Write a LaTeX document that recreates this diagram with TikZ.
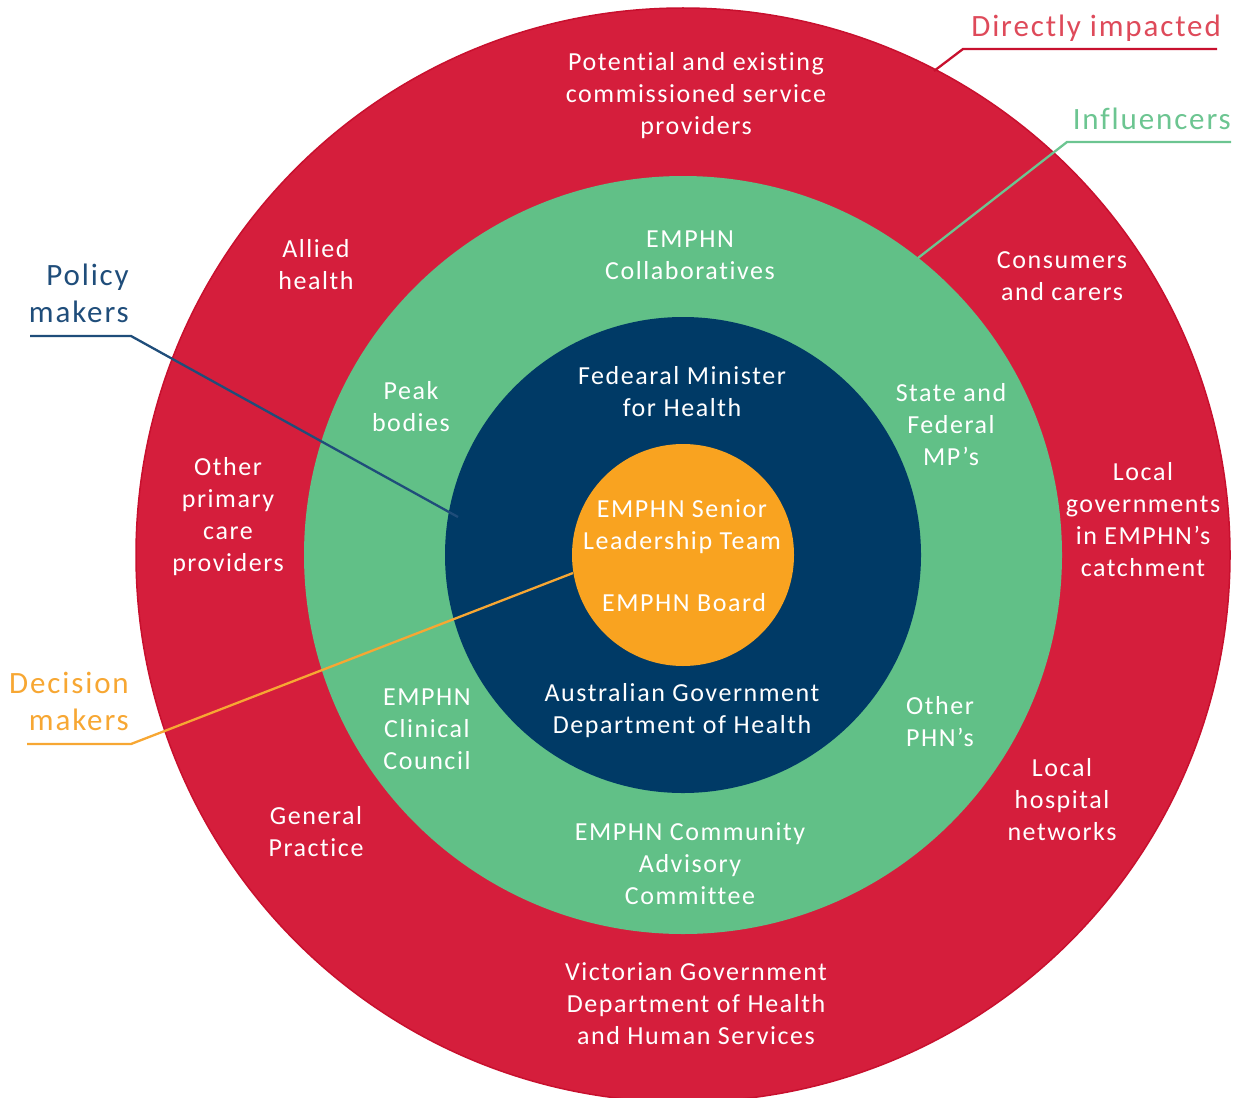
\documentclass[tikz,border=0pt]{standalone}
\usepackage{fontspec}
\setmainfont{Carlito}[LetterSpace=6, Ligatures={NoCommon,NoRequired,NoContextual}]
\definecolor{redc}{HTML}{D51E3C}
\definecolor{redline}{HTML}{C8102E}
\definecolor{greenc}{HTML}{61C087}
\definecolor{navyc}{HTML}{003A66}
\definecolor{orangec}{HTML}{F9A320}
\definecolor{redlbl}{HTML}{DE4A5A}
\definecolor{greenlbl}{HTML}{6CC591}
\definecolor{navylbl}{HTML}{1F4D7A}
\definecolor{orangelbl}{HTML}{F7A733}
\tikzset{
  lbl/.style={text=white, align=center, inner sep=0pt, font=\fontsize{26}{32}\selectfont},
  hdr/.style={align=right, inner sep=0pt, anchor=east, font=\fontsize{31}{37}\selectfont},
  leader/.style={line width=2.3pt}
}
\begin{document}
\begin{tikzpicture}[x=1pt,y=-1pt]
\useasboundingbox (0,0) rectangle (1238,1097);
\fill[redc, draw=redline, line width=1.5pt] (683,555) circle[radius=547pt];
\fill[greenc] (683,555) circle[radius=379pt];
\fill[navyc] (683,555) circle[radius=238pt];
\fill[orangec] (683,555) circle[radius=111pt];

% outer ring texts
\node[lbl] (pot) at (696,96) {Potential and existing\\commissioned service\\providers};
\node[lbl] (allied) at (316,265) {Allied\\health};
\node[lbl] (cons) at (1062,276) {Consumers\\and carers};
\node[lbl] (opc) at (228,517) {Other\\primary\\care\\providers};
\node[lbl] (lgov) at (1143,520) {Local\\governments\\in EMPHN’s\\catchment};
\node[lbl] (lhn) at (1062,800) {Local\\hospital\\networks};
\node[lbl] (gp) at (316,832) {General\\Practice};
\node[lbl] (vic) at (696,1004) {Victorian Government\\Department of Health\\and Human Services};

% green ring texts
\node[lbl] (collab) at (690,255) {EMPHN\\Collaboratives};
\node[lbl] (peak) at (411,407) {Peak\\bodies};
\node[lbl] (mps) at (951,425) {State and\\Federal\\MP’s};
\node[lbl] (clin) at (427,729) {EMPHN\\Clinical\\Council};
\node[lbl] (phn) at (940,722) {Other\\PHN’s};
\node[lbl] (cac) at (690,864) {EMPHN Community\\Advisory\\Committee};

% navy ring texts
\node[lbl] (min) at (682,392) {Fedearal Minister\\for Health};
\node[lbl] (dept) at (682,711) {Australian Government\\Department of Health};

% orange texts
\node[lbl] (slt) at (682,527) {EMPHN Senior\\Leadership Team};
\node[lbl] (board) at (684,603) {EMPHN Board};

% headers
\node[hdr, text=redlbl] (hdi) at (1221,28) {Directly impacted};
\node[hdr, text=greenlbl] (hinf) at (1231,119) {Influencers};
\node[hdr, text=navylbl] (hpol) at (129,293) {Policy\\makers};
\node[hdr, text=orangelbl] (hdec) at (129,701) {Decision\\makers};

% leader lines
\coordinate (di1) at (1217,49);
\coordinate (di2) at (963,49);
\coordinate (di3) at (934,71);
\coordinate (in1) at (1231,142);
\coordinate (in2) at (1067,142);
\coordinate (in3) at (918,258);
\coordinate (po1) at (30,336);
\coordinate (po2) at (131,336);
\coordinate (po3) at (458,517);
\coordinate (de1) at (27,744);
\coordinate (de2) at (131,744);
\coordinate (de3) at (573,573);
\draw[leader, redline] (di1) -- (di2) -- (di3);
\draw[leader, greenlbl] (in1) -- (in2) -- (in3);
\draw[leader, navylbl] (po1) -- (po2) -- (po3);
\draw[leader, orangelbl] (de1) -- (de2) -- (de3);
\end{tikzpicture}
\end{document}
